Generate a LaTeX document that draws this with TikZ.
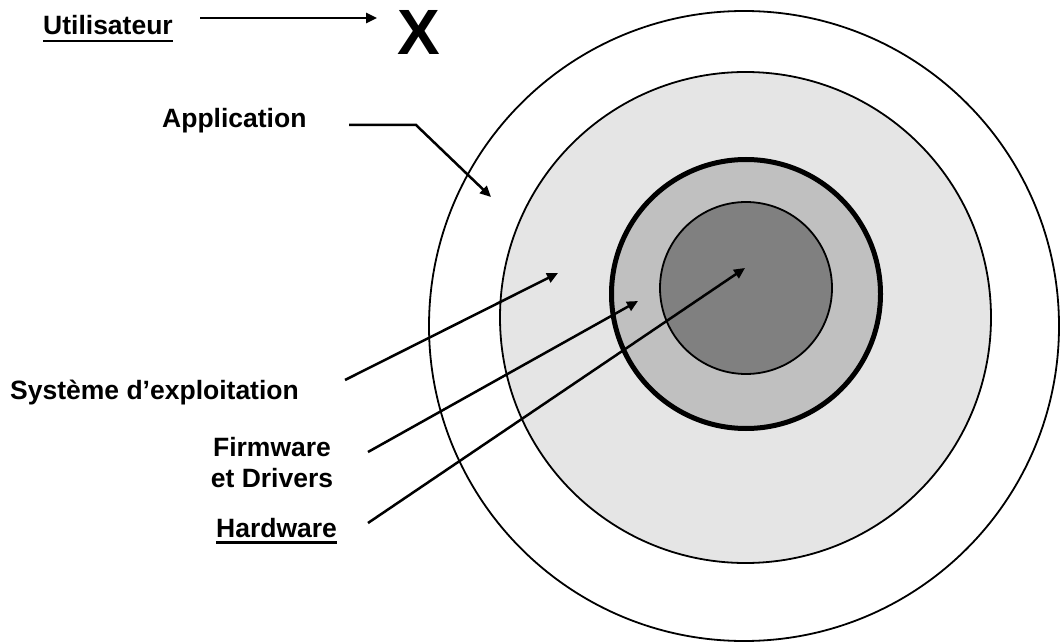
\documentclass[tikz,border=0pt]{standalone}
\usepackage{fontspec}
\setmainfont{Liberation Sans}
\usetikzlibrary{arrows.meta}
\definecolor{ringA}{HTML}{E5E5E5}
\definecolor{ringB}{HTML}{C0C0C0}
\definecolor{ringC}{HTML}{808080}
\begin{document}
\begin{tikzpicture}[x=1pt,y=-1pt,
  lbl/.style={font=\fontsize{26.5}{31}\selectfont\bfseries, inner sep=0pt, anchor=base west},
  arr/.style={line width=2.5pt, -{Triangle[length=11pt,width=10pt]}},
  ring/.style={circle, draw, inner sep=0pt, line width=1.8pt},
  uline/.style={line width=2.6pt}]
\useasboundingbox (0,0) rectangle (1060,644);

% nested layers
\node[ring, fill=white, minimum size=630pt] (outer) at (744,326) {};
\node[ring, fill=ringA, minimum size=491pt] (os) at (745.5,317.5) {};
\node[ring, fill=ringB, line width=5pt, minimum size=269pt] (fw) at (746,294) {};
\node[ring, fill=ringC, minimum size=172pt] (hw) at (746,288) {};

% labels
\node[lbl] (user) at (43,35) {Utilisateur};
\node[font=\fontsize{64}{64}\selectfont\bfseries, inner sep=0pt, anchor=base west] (xmark) at (397,55) {X};
\node[lbl] (app) at (162,128) {Application};
\node[lbl] (sys) at (10,399) {Système d’exploitation};
\node[font=\fontsize{26.5}{31}\selectfont\bfseries, inner sep=0pt, align=center, anchor=base] (drv) at (272,487) {Firmware\\et Drivers};
\node[lbl] (hard) at (216,537) {Hardware};

% underlines
\draw[uline] ([yshift=-6pt]user.base west) -- ([yshift=-6pt]user.base east);
\draw[uline] ([yshift=-5.5pt]hard.base west) -- ([yshift=-5.5pt]hard.base east);

% arrow end points
\coordinate (uS) at (200,18);
\coordinate (uE) at (377,18);
\coordinate (aS) at (349,125);
\coordinate (aK) at (416,125);
\coordinate (aE) at (491,197);
\coordinate (sS) at (345,380);
\coordinate (sE) at (558,273);
\coordinate (fS) at (368,452);
\coordinate (fE) at (638,301);
\coordinate (hS) at (368,523);
\coordinate (hE) at (745,268);

\draw[arr] (uS) -- (uE);
\draw[arr] (aS) -- (aK) -- (aE);
\draw[arr] (sS) -- (sE);
\draw[arr] (fS) -- (fE);
\draw[arr] (hS) -- (hE);
\end{tikzpicture}
\end{document}
